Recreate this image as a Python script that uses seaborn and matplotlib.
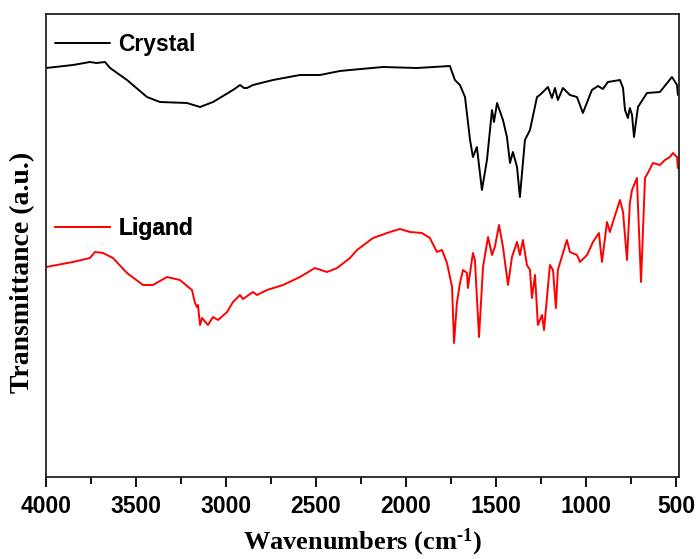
import numpy as np
import pandas as pd
import matplotlib
matplotlib.use("Agg")
import matplotlib.pyplot as plt
from matplotlib.ticker import MultipleLocator
import seaborn as sns

# ---- data (wavenumber, transmittance a.u.) ----
crystal_wn = [4000, 3850, 3756, 3720, 3672, 3644, 3550, 3439, 3367, 3217, 3144, 3072,
              2961, 2922, 2900, 2883, 2850, 2739, 2589, 2478, 2367, 2311, 2128, 1939,
              1756, 1728, 1700, 1672, 1644, 1628, 1606, 1578, 1550, 1522, 1511, 1494,
              1461, 1439, 1422, 1406, 1383, 1367, 1339, 1311, 1272, 1256, 1211, 1189,
              1172, 1156, 1128, 1089, 1050, 1017, 967, 933, 906, 878, 811, 794, 783,
              767, 756, 744, 733, 711, 661, 589, 522, 494, 489]
crystal_py = [68, 65, 62, 63, 62, 68, 80, 97, 102, 103, 107, 102,
              90, 85, 88, 88, 85, 80, 75, 75, 71, 70, 67, 68,
              66, 80, 85, 97, 140, 157, 147, 190, 160, 110, 122, 103,
              120, 137, 163, 152, 167, 197, 140, 130, 97, 95, 87, 98,
              88, 100, 88, 95, 97, 113, 90, 86, 89, 82, 80, 88, 110,
              118, 108, 115, 137, 107, 93, 92, 77, 85, 95]

ligand_wn = [4000, 3850, 3756, 3728, 3683, 3628, 3550, 3461, 3406, 3328, 3256, 3189,
             3172, 3161, 3156, 3144, 3133, 3100, 3072, 3044, 2994, 2961, 2922, 2906,
             2850, 2828, 2772, 2683, 2589, 2506, 2439, 2383, 2311, 2272, 2183, 2089,
             2033, 1978, 1911, 1867, 1828, 1800, 1772, 1744, 1733, 1717, 1700, 1683,
             1661, 1656, 1628, 1617, 1594, 1572, 1544, 1522, 1506, 1483, 1461, 1433,
             1411, 1383, 1367, 1350, 1328, 1311, 1300, 1283, 1267, 1244, 1233, 1200,
             1183, 1167, 1156, 1106, 1089, 1050, 1033, 994, 961, 928, 911, 883, 867,
             850, 811, 794, 772, 756, 744, 717, 694, 672, 656, 628, 589, 561, 533,
             517, 494, 489]
ligand_py = [267, 262, 258, 252, 253, 258, 273, 285, 285, 277, 280, 290,
             303, 307, 305, 325, 318, 325, 317, 320, 312, 302, 295, 299,
             292, 295, 290, 285, 277, 268, 272, 268, 258, 250, 238, 232,
             229, 232, 233, 238, 252, 250, 263, 287, 343, 303, 283, 270,
             273, 288, 253, 260, 337, 267, 237, 255, 247, 225, 247, 285,
             257, 242, 255, 240, 265, 270, 298, 275, 325, 315, 330, 265,
             270, 308, 270, 240, 252, 255, 262, 255, 242, 233, 262, 222, 232,
             222, 200, 212, 260, 203, 190, 178, 282, 178, 173, 163, 165, 160, 157,
             153, 157, 168]

series_names = ["Crystal", "Ligand"]
series_colors = ["#000000", "#ff0000"]

# transmittance in arbitrary units (larger = higher on plot)
crystal_t = [477 - v for v in crystal_py]
ligand_t = [477 - v for v in ligand_py]

df = pd.concat([
    pd.DataFrame({"wn": crystal_wn, "T": crystal_t, "s": "Crystal"}),
    pd.DataFrame({"wn": ligand_wn, "T": ligand_t, "s": "Ligand"}),
], ignore_index=True)

sns.set_theme(style="ticks")
plt.rcParams["font.family"] = ["Liberation Sans", "DejaVu Sans"]
plt.rcParams["text.color"] = "black"
plt.rcParams["axes.labelcolor"] = "black"
plt.rcParams["xtick.color"] = "black"
plt.rcParams["mathtext.fontset"] = "custom"
plt.rcParams["mathtext.rm"] = "Liberation Serif:bold"
plt.rcParams["mathtext.bf"] = "Liberation Serif:bold"
plt.rcParams["mathtext.it"] = "Liberation Serif:bold"
plt.rcParams["mathtext.default"] = "bf"

fig = plt.figure(figsize=(6.98, 5.59), dpi=100)
ax = fig.add_axes([46/698, 1-477/559, 633/698, 463/559])

handles = []
for name, col in zip(series_names, series_colors):
    sub = df[df["s"] == name]
    sns.lineplot(data=sub, x="wn", y="T", ax=ax, color=col, lw=1.4,
                 estimator=None, sort=True, legend=False)
    handles.append(ax.lines[-1])

ax.set_xlim(4000, 483)
ax.set_ylim(0, 463)
ax.xaxis.set_major_locator(MultipleLocator(500))
ax.xaxis.set_minor_locator(MultipleLocator(250))
ax.set_yticks([])
ax.tick_params(axis="x", which="major", direction="out", length=7, width=1.3,
               labelsize=16.5, pad=6, colors="black")
ax.tick_params(axis="x", which="minor", direction="out", length=5, width=1.3,
               colors="black")
for lab in ax.get_xticklabels():
    lab.set_fontweight("bold")
for sp in ax.spines.values():
    sp.set_visible(True)
    sp.set_linewidth(1.3)
    sp.set_color("#222222")

ax.set_xlabel(r"Wavenumbers (cm$^{\text{-1}}$)", family="Liberation Serif",
              fontweight="bold", fontsize=19, labelpad=6, color="black")
ax.set_ylabel("Transmittance (a.u.)", family="Liberation Serif",
              fontweight="bold", fontsize=20, color="black")
ax.yaxis.set_label_coords(-0.017, 0.443)

leg_pos = [(0.0, 0.935), (0.0, 0.536)]
for h, name, pos in zip(handles, series_names, leg_pos):
    lg = ax.legend([h], [name], loc="center left", bbox_to_anchor=pos,
                   frameon=False, borderpad=0, borderaxespad=0.4,
                   handlelength=2.4, handletextpad=0.35,
                   prop={"family": "Liberation Sans", "weight": "bold", "size": 16.5})
    for t in lg.get_texts():
        t.set_color("black")
    ax.add_artist(lg)

fig.savefig("out.png", dpi=100)
